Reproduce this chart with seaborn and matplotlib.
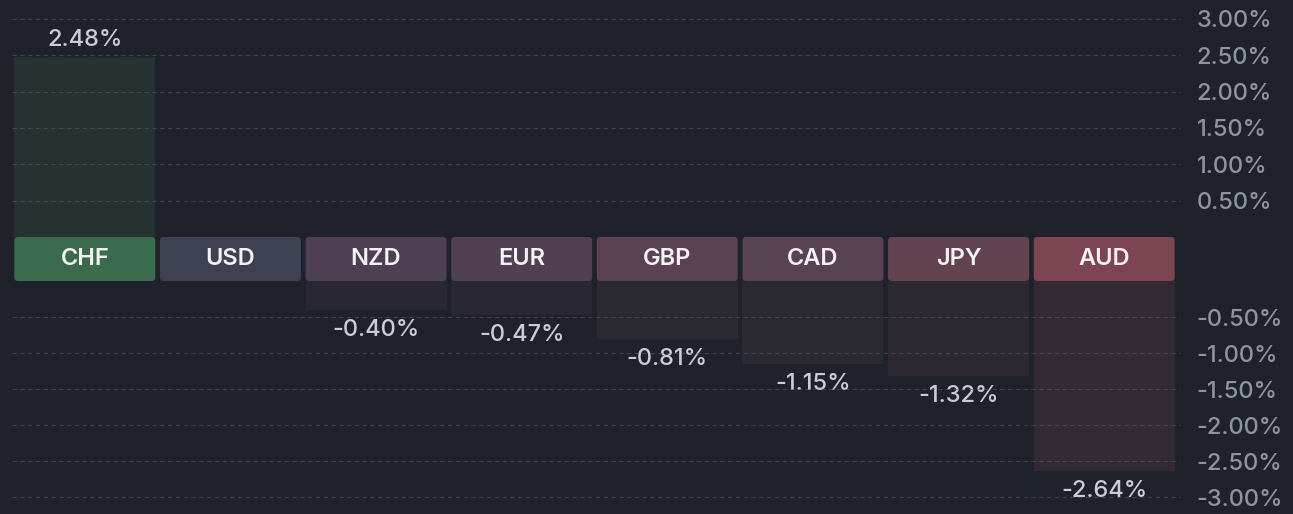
import matplotlib
matplotlib.use("Agg")
import matplotlib.pyplot as plt
import seaborn as sns
import pandas as pd
from matplotlib.patches import FancyBboxPatch

# data
currencies = ['CHF', 'USD', 'NZD', 'EUR', 'GBP', 'CAD', 'JPY', 'AUD']
changes = [2.48, 0.0, -0.40, -0.47, -0.81, -1.15, -1.32, -2.64]
value_labels = ['2.48%', '', '-0.40%', '-0.47%', '-0.81%', '-1.15%', '-1.32%', '-2.64%']
top_ticks = [0.5, 1.0, 1.5, 2.0, 2.5, 3.0]
bottom_ticks = [-0.5, -1.0, -1.5, -2.0, -2.5, -3.0]

box_colors = ['#3b6b4e', '#3e4152', '#4e4052', '#514052', '#5a4253', '#594252', '#634350', '#7d4451']
BG = '#1f222a'

sns.set_theme(style='dark')
plt.rcParams['font.family'] = ['Inter', 'DejaVu Sans']
plt.rcParams['font.weight'] = 500

df = pd.DataFrame({'cur': currencies, 'chg': changes})
df['pos'] = df['chg'].clip(lower=0)
df['neg'] = df['chg'].clip(upper=0)
df['box'] = 1.0

fig = plt.figure(figsize=(12.93, 5.14), dpi=100, facecolor=BG)
L, W = 12 / 1293, 1165 / 1293
ax_top = fig.add_axes([L, 277 / 514, W, 237 / 514])
ax_mid = fig.add_axes([L, 233 / 514, W, 44 / 514])
ax_bot = fig.add_axes([L, 0, W, 233 / 514])

pal = {c: col for c, col in zip(currencies, box_colors)}

sns.barplot(data=df, x='cur', y='pos', hue='cur', palette=pal, legend=False,
            width=0.968, alpha=0.22, ax=ax_top, saturation=1, linewidth=0)
sns.barplot(data=df, x='cur', y='neg', hue='cur', palette=pal, legend=False,
            width=0.968, alpha=0.22, ax=ax_bot, saturation=1, linewidth=0)
sns.barplot(data=df, x='cur', y='box', hue='cur', palette=pal, legend=False,
            width=0.968, ax=ax_mid, saturation=1, linewidth=0)

# round the corners of the currency boxes (x unit = 145.6 px, y unit = 44 px)
aspect = (1165 / 8) / 44
for p in list(ax_mid.patches):
    x, y = p.get_x(), p.get_y()
    w, h = p.get_width(), p.get_height()
    fc = p.get_facecolor()
    p.remove()
    ax_mid.add_patch(FancyBboxPatch((x, y), w, h, boxstyle='round,pad=0,rounding_size=0.025',
                                    mutation_aspect=aspect, fc=fc, ec='none', lw=0))

ax_top.set_ylim(0, 3.26)
ax_bot.set_ylim(-3.236, 0)
ax_mid.set_ylim(0, 1)

for ax, ticks in [(ax_top, top_ticks), (ax_bot, bottom_ticks), (ax_mid, [])]:
    ax.set_facecolor(BG)
    ax.set_xlim(-0.5, len(currencies) - 0.5)
    ax.set_xlabel('')
    ax.set_ylabel('')
    ax.set_xticks([])
    for s in ax.spines.values():
        s.set_visible(False)
    ax.yaxis.tick_right()
    ax.set_yticks(ticks)
    ax.set_yticklabels([f'{t:.2f}%' for t in ticks])
    ax.tick_params(axis='y', length=0, pad=14, labelsize=17, labelcolor='#8d93a3')
    for t in ticks:
        ax.axhline(t, xmin=0, xmax=1.003, color='#5a5f6c', lw=0.8, ls=(0, (4, 3)),
                   alpha=0.55, zorder=5, clip_on=False)

# currency names in the boxes
for i, c in enumerate(currencies):
    ax_mid.text(i, 0.5, c, ha='center', va='center', color='#f2f2f2', fontsize=17, fontweight=600)

# value labels
for i, (v, lab) in enumerate(zip(changes, value_labels)):
    if not lab:
        continue
    if v > 0:
        ax_top.annotate(lab, (i, v), xytext=(0, 12), textcoords='offset points',
                        ha='center', va='center', color='#c9cdd5', fontsize=17)
    else:
        ax_bot.annotate(lab, (i, v), xytext=(0, -14.5), textcoords='offset points',
                        ha='center', va='center', color='#c9cdd5', fontsize=17)

fig.savefig('out.png', dpi=100, facecolor=BG)
